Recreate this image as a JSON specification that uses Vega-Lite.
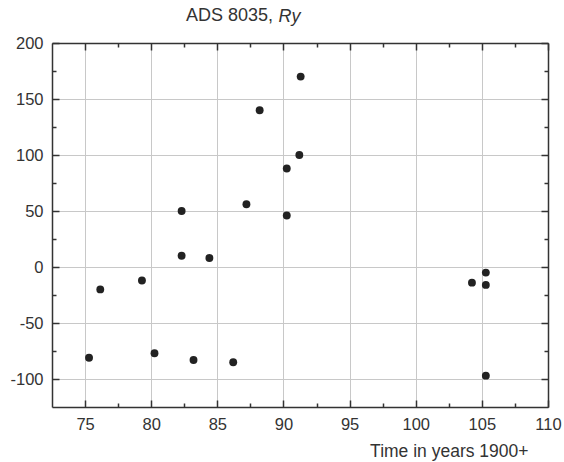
{
  "$schema": "https://vega.github.io/schema/vega-lite/v6.json",
  "width": 496,
  "height": 364,
  "autosize": {"type": "none"},
  "padding": {"left": 52, "top": 43, "right": 16, "bottom": 55},
  "background": "white",
  "title": {"text": "ADS 8035,", "anchor": "start", "frame": "group", "dx": 134, "dy": 22, "font": "Liberation Sans", "fontSize": 18, "fontWeight": "normal", "color": "#333"},
  "data": {"values": [
    {"year": 75.3, "value": -81},
    {"year": 76.15, "value": -20},
    {"year": 79.3, "value": -12},
    {"year": 80.25, "value": -77},
    {"year": 82.3, "value": 50},
    {"year": 82.3, "value": 10},
    {"year": 83.2, "value": -83},
    {"year": 84.4, "value": 8},
    {"year": 86.2, "value": -85},
    {"year": 87.2, "value": 56},
    {"year": 88.2, "value": 140},
    {"year": 90.25, "value": 88},
    {"year": 90.25, "value": 46},
    {"year": 91.2, "value": 100},
    {"year": 91.3, "value": 170},
    {"year": 104.25, "value": -14},
    {"year": 105.3, "value": -5},
    {"year": 105.3, "value": -16},
    {"year": 105.3, "value": -97}
  ]},
  "layer": [
    {
      "mark": {"type": "point", "filled": true, "size": 62, "color": "#222", "opacity": 1},
      "encoding": {
        "x": {"field": "year", "type": "quantitative",
          "scale": {"domain": [72.5, 110], "nice": false, "zero": false},
          "axis": {"orient": "bottom", "values": [75,77.5,80,82.5,85,87.5,90,92.5,95,97.5,100,102.5,105,107.5,110],
            "labelExpr": "datum.value % 5 === 0 ? '' + datum.value : ''",
            "tickSize": {"condition": {"test": "datum.value % 5 === 0", "value": -7}, "value": -4},
            "labelPadding": 16, "labelFlush": false, "labelOverlap": false,
            "grid": true,
            "gridOpacity": {"condition": {"test": "datum.value % 5 === 0", "value": 1}, "value": 0},
            "title": "Time in years 1900+", "titleFontSize": 17.5, "titleAnchor": "end", "titleAlign": "right",
            "titleBaseline": "alphabetic", "titleX": 476, "titleY": 49}},
        "y": {"field": "value", "type": "quantitative",
          "scale": {"domain": [-125, 200], "nice": false, "zero": false},
          "axis": {"orient": "left", "values": [-100,-75,-50,-25,0,25,50,75,100,125,150,175,200],
            "labelExpr": "datum.value % 50 === 0 ? '' + datum.value : ''",
            "tickSize": {"condition": {"test": "datum.value % 50 === 0", "value": -7}, "value": -4},
            "labelPadding": 16, "labelOverlap": false, "labelFlush": false,
            "grid": true,
            "gridOpacity": {"condition": {"test": "datum.value % 50 === 0", "value": 1}, "value": 0},
            "title": null}}
      }
    },
    {
      "mark": {"type": "point", "opacity": 0},
      "encoding": {
        "x": {"field": "year", "type": "quantitative",
          "axis": {"orient": "top", "values": [75,77.5,80,82.5,85,87.5,90,92.5,95,97.5,100,102.5,105,107.5,110],
            "labels": false, "grid": false,
            "tickSize": {"condition": {"test": "datum.value % 5 === 0", "value": -7}, "value": -4},
            "title": "Ry", "titleFontStyle": "italic", "titleFontSize": 18, "titleAnchor": "start", "titleAlign": "left",
            "titleBaseline": "alphabetic", "titleX": 226, "titleY": -22}},
        "y": {"field": "value", "type": "quantitative",
          "axis": {"orient": "right", "values": [-100,-75,-50,-25,0,25,50,75,100,125,150,175,200],
            "labels": false, "grid": false,
            "tickSize": {"condition": {"test": "datum.value % 50 === 0", "value": -7}, "value": -4},
            "title": null}}
      }
    }
  ],
  "resolve": {"axis": {"x": "independent", "y": "independent"}},
  "config": {
    "view": {"stroke": null},
    "axis": {"domainColor": "#333", "domainWidth": 1.5, "tickColor": "#333", "tickWidth": 1.5,
      "labelFont": "Liberation Sans", "labelFontSize": 16.5, "labelColor": "#333",
      "gridColor": "#c8c8c8", "gridWidth": 1,
      "titleFont": "Liberation Sans", "titleFontWeight": "normal", "titleColor": "#333"}
  }
}
